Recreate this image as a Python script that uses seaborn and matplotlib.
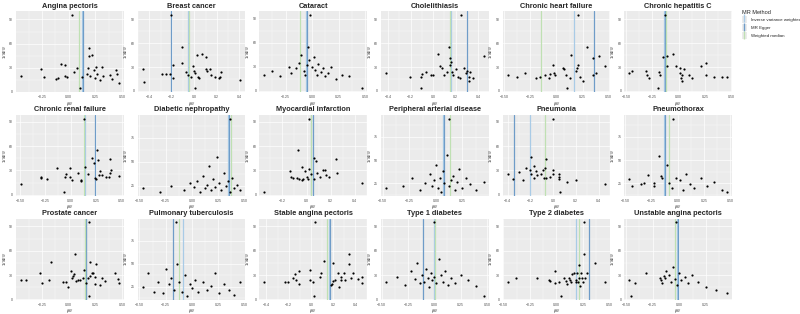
import matplotlib
matplotlib.use("Agg")
import matplotlib.pyplot as plt
from matplotlib.lines import Line2D
from matplotlib.patches import Rectangle
from matplotlib.ticker import MaxNLocator, AutoMinorLocator
import seaborn as sns

sns.set_theme(style="darkgrid", rc={"axes.facecolor": "#EBEBEB", "grid.color": "white"})
plt.rcParams['font.family'] = ['Liberation Sans', 'DejaVu Sans']

# causal estimates per SNP (beta_IV) and precision (1/SE_IV)
# est_* = [IVW, MR Egger, weighted median]
beta_angina = [0.03,-0.45,-0.26,-0.23,-0.12,-0.10,-0.07,-0.04,-0.04,-0.02,0.05,0.08,0.12,0.11,0.19,0.19,0.22,0.18,0.17,0.20,0.24,0.26,0.31,0.25,0.27,0.29,0.32,0.39,0.41,0.44,0.45,0.47]
prec_angina = [96,20,28,18,16,17,35,33,20,18,25,29,18,4,55,45,46,29,22,20,27,31,31,17,22,14,20,21,16,27,22,11]
est_angina = [0.12, 0.13, 0.10]

beta_breast = [-0.21,-0.46,-0.45,-0.29,-0.25,-0.22,-0.19,-0.19,-0.11,-0.11,-0.07,-0.06,-0.03,-0.01,0.00,0.01,0.02,0.03,0.04,0.01,0.07,0.10,0.10,0.11,0.14,0.15,0.18,0.22,0.23,0.24,0.41]
prec_breast = [96,28,11,21,21,21,16,33,55,35,24,20,18,31,25,22,45,17,16,3,46,43,27,25,28,20,17,16,18,24,14]
est_breast = [-0.06, -0.21, -0.05]

beta_cataract = [-0.02,-0.45,-0.38,-0.30,-0.22,-0.20,-0.15,-0.12,-0.10,-0.08,-0.07,-0.05,-0.04,-0.03,0.00,0.02,0.03,0.05,0.06,0.08,0.10,0.12,0.15,0.18,0.22,0.28,0.35,0.47]
prec_cataract = [95,20,25,18,30,22,28,35,45,25,20,32,55,38,30,42,26,20,33,24,28,18,22,30,15,20,18,3]
est_cataract = [-0.06, -0.05, -0.11]

beta_chole = [0.25,-0.21,-0.11,-0.10,-0.06,-0.02,0.00,-0.11,0.04,0.06,0.08,0.10,0.12,0.14,0.15,0.15,0.16,0.17,0.18,0.20,0.22,0.24,0.27,0.29,0.30,0.32,0.33,0.32,0.35,0.45,-0.42]
prec_chole = [96,18,17,21,24,20,20,3,46,31,29,20,24,55,42,33,36,24,20,27,18,16,29,22,25,12,24,18,16,44,22]
est_chole = [0.16, 0.30, 0.15]

beta_chf = [0.21,-0.20,-0.16,-0.11,-0.07,-0.06,-0.03,-0.02,-0.01,0.06,0.07,0.09,0.13,0.10,0.14,0.19,0.20,0.21,0.23,0.25,0.29,0.35,0.35,0.38,0.41,0.47,-0.47,-0.38,-0.30]
prec_chf = [96,16,17,20,16,21,33,22,20,29,27,20,16,3,45,25,29,33,18,12,55,41,20,22,44,31,20,18,23]
est_chf = [0.17, 0.36, -0.15]

beta_hepc = [-0.13,-0.11,-0.05,-0.11,-0.03,0.01,0.01,0.03,0.05,0.02,0.03,0.10,0.13,0.21,0.26,0.26,0.34,0.41,0.46,-0.47,-0.44,-0.31,-0.30,-0.28,-0.20,-0.18,-0.19,-0.15]
prec_hepc = [96,44,46,31,31,29,22,20,27,16,13,20,16,31,35,20,18,18,17,22,25,25,20,16,3,20,24,43]
est_hepc = [-0.14, -0.13, -0.12]

beta_crf = [0.13,-0.49,-0.29,-0.29,-0.23,-0.14,-0.07,-0.06,-0.05,-0.01,-0.01,0.01,0.07,0.10,0.10,0.14,0.17,0.21,0.23,0.24,0.25,0.26,0.27,0.28,0.29,0.31,0.34,0.37,0.38,0.38,0.39,0.47]
prec_crf = [94,13,22,21,20,33,3,22,25,33,22,18,27,17,18,34,26,45,39,21,20,55,43,24,29,24,22,22,44,27,30,23]
est_crf = [0.14, 0.24, 0.13]

beta_dn = [0.36,-0.47,-0.30,-0.20,-0.08,-0.02,0.02,0.05,0.08,0.10,0.12,0.14,0.16,0.18,0.20,0.22,0.24,0.26,0.28,0.30,0.32,0.34,0.36,0.38,0.40,0.43,0.46]
prec_dn = [95,22,18,25,20,28,24,30,18,35,22,26,45,20,32,24,55,28,20,38,25,30,18,33,22,26,20]
est_dn = [0.34, 0.35, 0.37]

beta_mi = [0.02,-0.35,-0.07,-0.14,-0.13,-0.11,-0.08,-0.06,-0.04,-0.03,-0.04,-0.01,0.00,0.01,0.02,0.04,0.06,0.06,0.08,0.09,0.11,0.14,0.15,0.16,0.19,0.24,0.25,0.46]
prec_mi = [94,3,55,29,22,21,21,20,18,20,34,29,22,20,32,26,20,45,42,27,22,31,31,24,22,44,27,14]
est_mi = [0.04, 0.05, 0.04]

beta_pad = [0.12,-0.47,-0.31,-0.22,-0.15,-0.10,-0.06,-0.04,-0.02,0.00,0.02,0.04,0.05,0.07,0.08,0.10,0.12,0.14,0.16,0.18,0.20,0.22,0.25,0.28,0.32,0.38,0.45]
prec_pad = [95,20,22,30,18,25,35,22,28,45,20,30,15,38,25,55,22,28,33,18,26,40,20,30,24,18,26]
est_pad = [0.07, 0.08, 0.13]

beta_pneumonia = [-0.19,-0.20,-0.19,-0.17,-0.17,-0.15,-0.14,-0.11,-0.09,-0.08,-0.07,-0.06,-0.06,-0.03,0.00,0.00,0.05,0.05,0.05,0.06,0.12,0.20,0.46,0.00,-0.40,-0.35,-0.30,-0.26,-0.24]
prec_pneumonia = [46,30,25,35,21,29,24,25,30,21,33,44,21,22,31,26,26,22,20,3,16,18,13,94,25,20,28,18,33]
est_pneumonia = [-0.20, -0.34, -0.07]

beta_ptx = [-0.46,-0.43,-0.35,-0.32,-0.28,-0.22,-0.22,-0.18,-0.16,-0.15,-0.10,-0.08,-0.05,-0.02,0.02,0.05,0.08,0.12,0.16,0.22,0.28,0.35,0.42,0.47,-0.04]
prec_ptx = [29,22,24,25,34,25,22,54,33,31,45,25,20,30,28,18,35,24,20,30,22,26,18,15,95]
est_ptx = [-0.13, -0.12, -0.08]

beta_prostate = [0.19,-0.45,-0.40,-0.27,-0.25,-0.19,-0.17,-0.05,-0.03,-0.01,0.02,0.03,0.04,0.05,0.06,0.07,0.09,0.11,0.13,0.14,0.16,0.18,0.19,0.20,0.20,0.22,0.23,0.25,0.25,0.26,0.29,0.31,0.34,0.43,0.46,0.47]
prec_prostate = [95,24,24,33,20,24,46,22,22,15,35,27,29,31,56,23,24,24,27,36,20,27,4,46,29,32,33,28,19,44,18,27,23,33,25,20]
est_prostate = [0.16, 0.16, 0.15]

beta_tb = [-0.15,-0.47,-0.42,-0.36,-0.32,-0.28,-0.25,-0.22,-0.20,-0.17,-0.14,-0.12,-0.10,-0.07,-0.05,-0.02,0.00,0.03,0.06,0.10,0.14,0.18,0.22,0.26,0.30,0.35,0.40,0.46]
prec_tb = [95,25,40,20,30,18,45,28,35,22,50,30,20,38,15,28,24,33,20,30,22,26,40,18,28,22,16,30]
est_tb = [-0.09, -0.18, -0.12]

beta_sap = [0.04,-0.23,-0.21,-0.16,-0.14,-0.13,-0.11,-0.11,-0.01,-0.01,0.02,0.03,0.08,0.09,0.12,0.18,0.19,0.20,0.20,0.22,0.24,0.25,0.27,0.27,0.30,0.31,0.34,0.34,0.36,0.38,0.42,0.46,0.46,-0.42]
prec_sap = [95,22,22,27,31,24,35,19,36,24,22,4,28,32,47,18,19,45,23,24,33,15,24,28,33,24,56,44,27,32,25,28,20,22]
est_sap = [0.16, 0.17, 0.14]

beta_t1d = [0.00,-0.46,-0.35,-0.28,-0.22,-0.18,-0.16,-0.14,-0.12,-0.10,-0.08,-0.06,-0.05,-0.03,-0.02,0.00,0.02,0.04,0.06,0.08,0.10,0.13,0.16,0.20,0.25,0.32,0.40,0.47]
prec_t1d = [95,22,28,18,35,25,45,20,30,22,38,26,15,32,24,28,20,50,30,22,35,18,26,20,30,24,16,4]
est_t1d = [0.00, -0.11, 0.01]

beta_t2d = [0.26,-0.18,-0.07,-0.06,-0.01,-0.01,0.02,0.04,0.07,0.09,0.10,0.12,0.13,0.14,0.15,0.16,0.18,0.18,0.19,0.20,0.21,0.21,0.22,0.23,0.24,0.25,0.26,0.27,0.29,0.36,0.46,-0.46,-0.38]
prec_t2d = [95,27,24,23,35,20,22,4,26,23,19,27,24,21,31,32,24,21,33,22,26,43,16,32,27,21,56,27,33,45,22,22,27]
est_t2d = [0.18, 0.31, 0.21]

beta_uap = [-0.47,-0.45,-0.42,-0.31,-0.18,-0.17,-0.16,-0.14,-0.13,-0.12,-0.10,-0.08,-0.06,-0.04,-0.02,0.00,0.02,0.05,0.08,0.12,0.18,0.25,0.35,0.45,-0.03]
prec_uap = [24,4,20,32,27,24,20,29,26,35,30,22,40,25,18,33,24,28,20,30,22,15,12,8,95]
est_uap = [-0.02, -0.01, -0.04]

methods = ["Inverse variance weighted", "MR Egger", "Weighted median"]
method_colors = ["#a9cbe6", "#6f9cc8", "#bfe0b3"]

panels = [
    ("Angina pectoris", beta_angina, prec_angina, est_angina),
    ("Breast cancer", beta_breast, prec_breast, est_breast),
    ("Cataract", beta_cataract, prec_cataract, est_cataract),
    ("Cholelithiasis", beta_chole, prec_chole, est_chole),
    ("Chronic heart failure", beta_chf, prec_chf, est_chf),
    ("Chronic hepatitis C", beta_hepc, prec_hepc, est_hepc),
    ("Chronic renal failure", beta_crf, prec_crf, est_crf),
    ("Diabetic nephropathy", beta_dn, prec_dn, est_dn),
    ("Myocardial infarction", beta_mi, prec_mi, est_mi),
    ("Peripheral arterial disease", beta_pad, prec_pad, est_pad),
    ("Pneumonia", beta_pneumonia, prec_pneumonia, est_pneumonia),
    ("Pneumothorax", beta_ptx, prec_ptx, est_ptx),
    ("Prostate cancer", beta_prostate, prec_prostate, est_prostate),
    ("Pulmonary tuberculosis", beta_tb, prec_tb, est_tb),
    ("Stable angina pectoris", beta_sap, prec_sap, est_sap),
    ("Type 1 diabetes", beta_t1d, prec_t1d, est_t1d),
    ("Type 2 diabetes", beta_t2d, prec_t2d, est_t2d),
    ("Unstable angina pectoris", beta_uap, prec_uap, est_uap),
]

fig, axes = plt.subplots(3, 6, figsize=(8, 3.14), dpi=100)
fig.subplots_adjust(left=0.02, right=0.915, top=0.965, bottom=0.045, wspace=0.13, hspace=0.28)

for ax, (name, b, p, est) in zip(axes.flat, panels):
    for val, col in zip(est, method_colors):
        ax.axvline(val, color=col, lw=0.9, zorder=2)
    sns.scatterplot(x=b, y=p, ax=ax, color='black', s=2.5, linewidth=0, zorder=3)
    ax.set_title(name, fontsize=5.3, fontweight='bold', pad=2.5)
    ax.set_xlabel(r'$\beta_{IV}$', fontsize=3, labelpad=0.5)
    ax.set_ylabel(r'$1/SE_{IV}$', fontsize=3, labelpad=0.5)
    ax.xaxis.set_major_locator(MaxNLocator(5))
    ax.yaxis.set_major_locator(MaxNLocator(4))
    ax.xaxis.set_minor_locator(AutoMinorLocator(2))
    ax.yaxis.set_minor_locator(AutoMinorLocator(2))
    ax.grid(which='major', color='white', lw=0.5)
    ax.grid(which='minor', color='white', lw=0.25)
    ax.tick_params(which='major', labelsize=2.5, length=1.2, width=0.3, pad=0.8, colors='#4d4d4d')
    ax.tick_params(which='minor', length=0)
    for s in ax.spines.values():
        s.set_visible(False)

handles = [(Rectangle((0, 0), 1, 1, facecolor='#EBEBEB', edgecolor='none'),
            Line2D([0], [0], color=c, lw=0, marker='|', markersize=6, mew=1.0))
           for c in method_colors]
leg = fig.legend(handles, methods, title='MR Method', loc='upper left',
                 bbox_to_anchor=(0.925, 0.975), frameon=False, fontsize=3.2,
                 title_fontsize=4, handlelength=1.2, handleheight=2.0,
                 labelspacing=0.3, borderaxespad=0)
leg._legend_box.align = 'left'

fig.savefig('out.png', dpi=100)
